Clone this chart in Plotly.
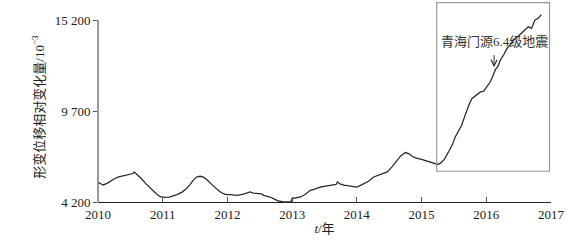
import plotly.graph_objects as go

years = [2010.00, 2010.04, 2010.08, 2010.14, 2010.20, 2010.26, 2010.32, 2010.40, 2010.50, 2010.54,
         2010.56, 2010.60, 2010.66, 2010.74, 2010.82, 2010.90, 2010.96, 2011.02, 2011.10, 2011.22,
         2011.30, 2011.36, 2011.42, 2011.48, 2011.53, 2011.58, 2011.63, 2011.68, 2011.76, 2011.82,
         2011.88, 2011.94, 2011.98, 2012.05, 2012.15, 2012.25, 2012.35, 2012.40, 2012.45, 2012.50,
         2012.53, 2012.56, 2012.62, 2012.66, 2012.72, 2012.79, 2012.86, 2012.95, 2012.98, 2013.00,
         2013.06, 2013.13, 2013.20, 2013.28, 2013.34, 2013.44, 2013.54, 2013.64, 2013.68, 2013.70,
         2013.74, 2013.80, 2013.90, 2014.00, 2014.08, 2014.18, 2014.26, 2014.36, 2014.47, 2014.55,
         2014.62, 2014.68, 2014.75, 2014.80, 2014.86, 2014.92, 2015.00, 2015.08, 2015.16, 2015.25,
         2015.30, 2015.35, 2015.42, 2015.48, 2015.52, 2015.57, 2015.62, 2015.66, 2015.70, 2015.74,
         2015.78, 2015.84, 2015.91, 2015.96, 2016.00, 2016.06, 2016.10, 2016.14, 2016.18, 2016.22,
         2016.27, 2016.32, 2016.37, 2016.42, 2016.50, 2016.57, 2016.65, 2016.70, 2016.75, 2016.80,
         2016.85]
values = [5390, 5290, 5230, 5330, 5500, 5620, 5712, 5790, 5860, 5920,
          6015, 5880, 5650, 5313, 5000, 4700, 4520, 4484, 4500, 4648,
          4800, 4980, 5250, 5555, 5720, 5755, 5700, 5560, 5250, 5010,
          4830, 4700, 4650, 4640, 4605, 4680, 4805, 4740, 4720, 4745,
          4690, 4605, 4540, 4502, 4390, 4260, 4210, 4200, 4210, 4405,
          4430, 4502, 4650, 4908, 4960, 5107, 5180, 5210, 5260, 5410,
          5290, 5220, 5150, 5100, 5250, 5450, 5712, 5850, 6015, 6350,
          6723, 7000, 7189, 7128, 6950, 6850, 6770, 6680, 6570, 6470,
          6560, 6780, 7250, 7700, 8133, 8450, 8840, 9300, 9748, 10150,
          10456, 10650, 10855, 10900, 11100, 11450, 11800, 12200, 12400, 12800,
          13100, 13481, 13700, 13983, 14250, 14485, 14788, 14690, 15193, 15300,
          15520]

x_ticks = [2010, 2011, 2012, 2013, 2014, 2015, 2016, 2017]
y_ticks = [4200, 9700, 15200]
y_tick_labels = ["4 200", "9 700", "15 200"]

event_label = "青海门源6.4级地震"
event_year = 2016.12
event_value = 12350

FONT = "Liberation Serif, Times New Roman, Noto Sans CJK SC, serif"

fig = go.Figure()
fig.add_trace(go.Scatter(x=years, y=values, mode="lines",
                         line=dict(color="#2b2b2b", width=1.3), showlegend=False,
                         hoverinfo="skip"))

fig.update_layout(
    width=582, height=241,
    margin=dict(l=98, r=31, t=12, b=39),
    paper_bgcolor="white", plot_bgcolor="white",
    font=dict(family=FONT, size=13, color="#222"),
    xaxis=dict(range=[2010, 2017], tickvals=x_ticks, ticktext=[str(t) for t in x_ticks],
               showgrid=False, zeroline=False, showline=True, linecolor="#222", linewidth=1.3,
               ticks="inside", ticklen=5, tickcolor="#555", tickwidth=1, automargin=False,
               tickfont=dict(size=13, family=FONT), ticklabelstandoff=0,
               title=dict(text="<i>t</i>/年", font=dict(size=13, family=FONT), standoff=3)),
    yaxis=dict(range=[4200, 15684], tickvals=y_ticks, ticktext=y_tick_labels,
               showgrid=False, zeroline=False, showline=False, automargin=False,
               ticks="outside", ticklen=4, tickcolor="#555", tickwidth=1,
               tickfont=dict(size=13, family=FONT),
               title=dict(text="形变位移相对变化量/10<sup>−3</sup>", font=dict(size=13, family=FONT), standoff=7)),
)

# y axis line up to the top tick
fig.add_shape(type="line", xref="paper", yref="y", x0=0, x1=0, y0=4200, y1=15200,
              line=dict(color="#777", width=1.5))

# highlight box
fig.add_shape(type="rect", xref="paper", yref="paper", x0=0.7477, x1=0.9967, y0=0.1618, y1=1.049,
              line=dict(color="#999", width=1.2), fillcolor="rgba(0,0,0,0)")

# event label with arrow pointing to the curve
fig.add_annotation(x=event_year, y=event_value, xref="x", yref="y", text=event_label,
                   showarrow=True, arrowhead=5, arrowsize=1.2, arrowwidth=1, arrowcolor="#333",
                   ax=0, ay=-26, startstandoff=5, xanchor="center",
                   font=dict(size=13, family=FONT, color="#333"))

fig.write_html("out.html", config={"displayModeBar": False},
               post_script="document.body.style.margin='0px';document.body.style.overflow='hidden';")
